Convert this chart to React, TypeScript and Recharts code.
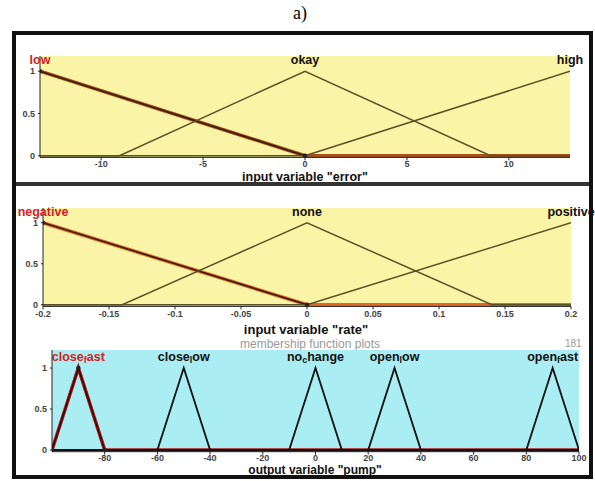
import React from 'react';
import { LineChart, Line, XAxis, YAxis, CartesianGrid, ReferenceDot } from 'recharts';

type Pt = { x: number; y: number };
type Mf = { name: string; peak: number; pts: Pt[] };

// input variable "error"
const errorTicks = [-10, -5, 0, 5, 10];
const errorLow: Pt[] = [{ x: -13, y: 1 }, { x: 0, y: 0 }, { x: 13, y: 0 }];
const errorOkay: Pt[] = [{ x: -13, y: 0 }, { x: -9.1, y: 0 }, { x: 0, y: 1 }, { x: 9.1, y: 0 }, { x: 13, y: 0 }];
const errorHigh: Pt[] = [{ x: -13, y: 0 }, { x: 0, y: 0 }, { x: 13, y: 1 }];

// input variable "rate"
const rateTicks = [-0.2, -0.15, -0.1, -0.05, 0, 0.05, 0.1, 0.15, 0.2];
const rateNegative: Pt[] = [{ x: -0.2, y: 1 }, { x: 0, y: 0 }, { x: 0.2, y: 0 }];
const rateNone: Pt[] = [{ x: -0.2, y: 0 }, { x: -0.14, y: 0 }, { x: 0, y: 1 }, { x: 0.14, y: 0 }, { x: 0.2, y: 0 }];
const ratePositive: Pt[] = [{ x: -0.2, y: 0 }, { x: 0, y: 0 }, { x: 0.2, y: 1 }];

// output variable "pump"
const pumpTicks = [-80, -60, -40, -20, 0, 20, 40, 60, 80, 100];
const pumpCloseFast: Pt[] = [{ x: -100, y: 0 }, { x: -90, y: 1 }, { x: -80, y: 0 }, { x: 100, y: 0 }];
const pumpCloseLow: Pt[] = [{ x: -100, y: 0 }, { x: -60, y: 0 }, { x: -50, y: 1 }, { x: -40, y: 0 }, { x: 100, y: 0 }];
const pumpNoChange: Pt[] = [{ x: -100, y: 0 }, { x: -10, y: 0 }, { x: 0, y: 1 }, { x: 10, y: 0 }, { x: 100, y: 0 }];
const pumpOpenLow: Pt[] = [{ x: -100, y: 0 }, { x: 20, y: 0 }, { x: 30, y: 1 }, { x: 40, y: 0 }, { x: 100, y: 0 }];
const pumpOpenFast: Pt[] = [{ x: -100, y: 0 }, { x: 80, y: 0 }, { x: 90, y: 1 }, { x: 100, y: 0 }];

const yTicks = [0, 0.5, 1];

const FONT = '"Liberation Sans", Arial, sans-serif';

const nameLabel = (text: string, color: string) => (props: any) => {
  const vb = props.viewBox || {};
  const x = (vb.x || 0) + (vb.width || 0) / 2;
  const y = (vb.y || 0) + (vb.height || 0) / 2;
  const i = text.indexOf('_');
  return (
    <text x={x} y={y} textAnchor="middle" dominantBaseline="central" fill={color}
      fontSize={12.5} fontWeight="bold" fontFamily={FONT}>
      {i < 0 ? text : (
        <>
          {text.slice(0, i)}
          <tspan dy={3} fontSize={9}>{text[i + 1]}</tspan>
          <tspan dy={-3}>{text.slice(i + 2)}</tspan>
        </>
      )}
    </text>
  );
};

type PanelProps = {
  top: number; height: number; left: number; right: number;
  plotTop: number; unit: number; yMax: number;
  domain: [number, number]; ticks: number[]; mfs: Mf[];
  bg: string; lineColor: string; lineWidth: number;
  selColor: string; coreColor: string; coreCount: number;
  tickGap: number;
};

function Panel(p: PanelProps) {
  const plotH = (p.yMax + 0.02) * p.unit;
  const xAxisH = 20;
  const mt = p.plotTop - p.top;
  const margin = { top: mt, left: p.left - 30, right: 595 - p.right, bottom: p.height - mt - plotH - xAxisH };
  const sel = p.mfs[0];
  const core = sel.pts.slice(0, p.coreCount);
  const tick = { fontSize: 9, fontWeight: 'bold', fill: '#444', fontFamily: FONT };
  return (
    <div style={{ position: 'absolute', left: 0, top: p.top, width: 595, height: p.height }}>
      <LineChart width={595} height={p.height} margin={margin}>
        <CartesianGrid fill={p.bg} horizontal={false} vertical={false} />
        <XAxis type="number" dataKey="x" domain={p.domain} ticks={p.ticks} interval={0} allowDataOverflow
          height={xAxisH} tickSize={3} tickMargin={p.tickGap} tick={tick} stroke="#222" />
        <XAxis xAxisId="top" orientation="top" type="number" dataKey="x" domain={p.domain} ticks={p.ticks}
          interval={0} allowDataOverflow height={0} mirror tick={false} tickSize={3} stroke="#999" />
        <YAxis type="number" domain={[-0.02, p.yMax]} ticks={yTicks} interval={0} allowDataOverflow
          width={30} tickSize={2} tickMargin={3} tick={tick} stroke="#222" />
        <YAxis yAxisId="r" orientation="right" type="number" domain={[-0.02, p.yMax]} ticks={yTicks}
          interval={0} allowDataOverflow width={0} mirror tick={false} tickSize={3} stroke="#999" />
        <Line data={sel.pts} dataKey="y" stroke={p.selColor} strokeWidth={3.6} dot={false} isAnimationActive={false} />
        <Line data={core} dataKey="y" stroke={p.coreColor} strokeWidth={1.6} dot={false} isAnimationActive={false} />
        {p.mfs.slice(1).map((m) => (
          <Line key={m.name} data={m.pts} dataKey="y" stroke={p.lineColor} strokeWidth={p.lineWidth}
            dot={false} isAnimationActive={false} />
        ))}
        <Line data={core} dataKey="y" stroke="none" isAnimationActive={false}
          dot={{ r: 2.2, fill: '#222', stroke: 'none' }} />
        {p.mfs.map((m, i) => (
          <ReferenceDot key={'n' + m.name} x={m.peak} y={1.135} r={0} ifOverflow="visible"
            fill="none" stroke="none"
            label={{ content: nameLabel(m.name, i === 0 ? '#d42020' : '#111') }} />
        ))}
      </LineChart>
    </div>
  );
}

const xlabelStyle = (cx: number, cy: number, size = 13): React.CSSProperties => ({
  position: 'absolute', left: cx - 150, top: cy - size / 2, width: 300, textAlign: 'center',
  fontFamily: FONT, fontSize: size, fontWeight: 'bold', lineHeight: size + 'px', color: '#111',
});

export default function App() {
  return (
    <div style={{ position: 'absolute', left: 0, top: 0, width: 595, height: 481, background: '#fff', overflow: 'hidden' }}>
      <div style={{ position: 'absolute', left: 0, top: 3, width: 600, textAlign: 'center',
        fontFamily: '"Liberation Serif", "Times New Roman", serif', fontSize: 18, lineHeight: '20px', color: '#000' }}>a)</div>

      <Panel top={30} height={160} left={40} right={570} plotTop={56} unit={84.5} yMax={1.18}
        domain={[-13, 13]} ticks={errorTicks}
        mfs={[
          { name: 'low', peak: -13, pts: errorLow },
          { name: 'okay', peak: 0, pts: errorOkay },
          { name: 'high', peak: 13, pts: errorHigh },
        ]}
        bg="#f9f4a6" lineColor="#5a5225" lineWidth={1.5} selColor="#a8501e" coreColor="#3a1c08" coreCount={2} tickGap={0} />
      <div style={xlabelStyle(305, 177, 12.5)}>input variable "error"</div>

      <Panel top={190} height={150} left={43} right={571} plotTop={208} unit={82} yMax={1.18}
        domain={[-0.2, 0.2]} ticks={rateTicks}
        mfs={[
          { name: 'negative', peak: -0.2, pts: rateNegative },
          { name: 'none', peak: 0, pts: rateNone },
          { name: 'positive', peak: 0.2, pts: ratePositive },
        ]}
        bg="#f9f4a6" lineColor="#5a5225" lineWidth={1.5} selColor="#e0682a" coreColor="#3a1c08" coreCount={2} tickGap={1} />
      <div style={xlabelStyle(306, 329)}>input variable "rate"</div>

      <div style={{ position: 'absolute', left: 240, top: 338, fontFamily: FONT, fontSize: 12, color: '#999', lineHeight: '12px' }}>
        membership function plots
      </div>
      <div style={{ position: 'absolute', left: 565, top: 338, fontFamily: FONT, fontSize: 10, color: '#999', lineHeight: '12px' }}>181</div>

      <Panel top={340} height={136} left={52} right={579} plotTop={350} unit={82} yMax={1.22}
        domain={[-100, 100]} ticks={pumpTicks}
        mfs={[
          { name: 'close_fast', peak: -90, pts: pumpCloseFast },
          { name: 'close_low', peak: -50, pts: pumpCloseLow },
          { name: 'no_change', peak: 0, pts: pumpNoChange },
          { name: 'open_low', peak: 30, pts: pumpOpenLow },
          { name: 'open_fast', peak: 90, pts: pumpOpenFast },
        ]}
        bg="#aaeef3" lineColor="#111" lineWidth={1.8} selColor="#b41a1a" coreColor="#2a0808" coreCount={3} tickGap={0} />
      <div style={xlabelStyle(315, 470, 12)}>output variable "pump"</div>

      <div style={{ position: 'absolute', left: 12, top: 182, width: 581, height: 4, background: '#333' }} />
      <div style={{ position: 'absolute', left: 12, top: 31, width: 581, height: 448, border: '4px solid #111', boxSizing: 'border-box' }} />
    </div>
  );
}
